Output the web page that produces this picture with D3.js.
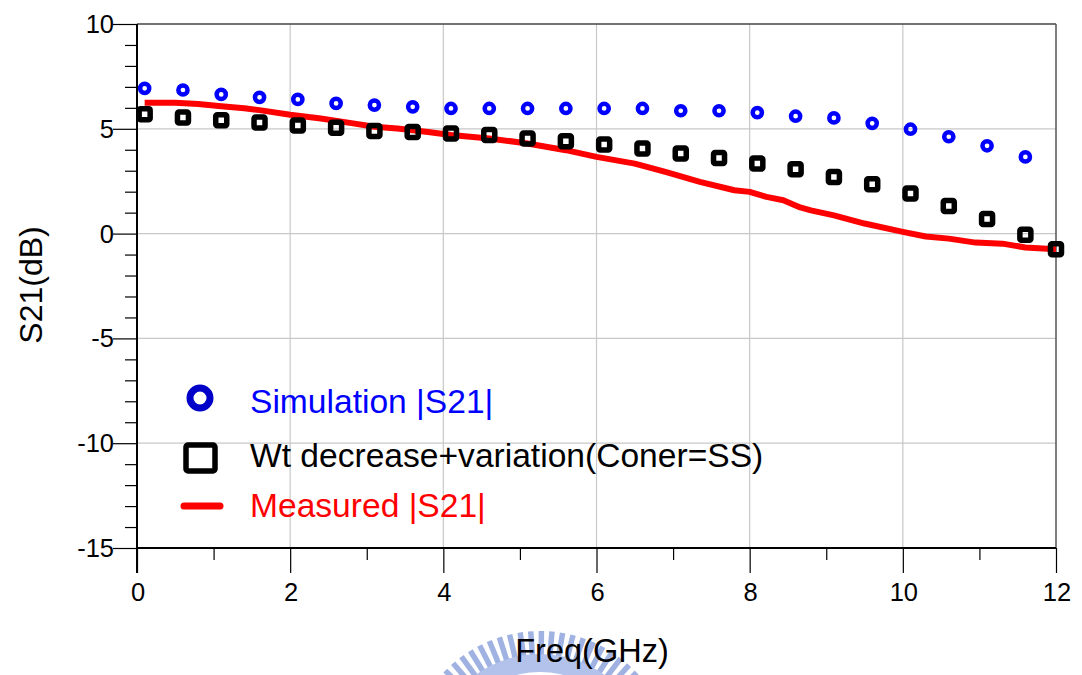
<!DOCTYPE html>
<html>
<head>
<meta charset="utf-8">
<script src="https://cdn.jsdelivr.net/npm/d3@7"></script>
<style>
  html, body { margin: 0; padding: 0; background: #fff; }
  svg { display: block; font-family: "Liberation Sans", Arial, sans-serif; }
</style>
</head>
<body>
<svg id="chart" width="1082" height="675"></svg>
<script>
// Sampled frequencies (GHz) for the simulated curves
const simFreq = [0.1, 0.6, 1.1, 1.6, 2.1, 2.6, 3.1, 3.6, 4.1, 4.6, 5.1, 5.6,
                 6.1, 6.6, 7.1, 7.6, 8.1, 8.6, 9.1, 9.6, 10.1, 10.6, 11.1, 11.6];
// Simulation |S21| (dB)
const simS21 = [6.93, 6.85, 6.64, 6.50, 6.40, 6.21, 6.13, 6.05, 5.97, 5.97, 5.97, 5.97,
                5.97, 5.97, 5.86, 5.86, 5.77, 5.60, 5.52, 5.26, 4.98, 4.62, 4.19, 3.66];
// Wt decrease + variation, corner SS
const wtFreq = [0.1, 0.6, 1.1, 1.6, 2.1, 2.6, 3.1, 3.6, 4.1, 4.6, 5.1, 5.6, 6.1,
                6.6, 7.1, 7.6, 8.1, 8.6, 9.1, 9.6, 10.1, 10.6, 11.1, 11.6, 12.0];
const wtS21 = [5.70, 5.54, 5.41, 5.30, 5.16, 5.05, 4.89, 4.85, 4.78, 4.70, 4.54, 4.41, 4.25,
               4.06, 3.82, 3.61, 3.34, 3.07, 2.70, 2.36, 1.91, 1.32, 0.70, -0.05, -0.75];
// Measured |S21|
const measFreq = [0.1, 0.5, 0.8, 1.1, 1.4, 1.6, 2.0, 2.4, 2.8, 3.1, 3.4, 3.8, 4.1, 4.6,
                  5.1, 5.6, 6.0, 6.5, 6.9, 7.35, 7.8, 8.0, 8.22, 8.44, 8.66, 8.8, 9.1,
                  9.5, 10.0, 10.3, 10.6, 10.95, 11.3, 11.6, 12.0];
const measS21 = [6.24, 6.24, 6.18, 6.08, 5.98, 5.89, 5.67, 5.49, 5.27, 5.10, 5.01, 4.85, 4.70, 4.54,
                 4.30, 3.98, 3.66, 3.34, 2.94, 2.47, 2.07, 1.99, 1.75, 1.59, 1.25, 1.11, 0.87,
                 0.48, 0.08, -0.14, -0.24, -0.43, -0.48, -0.66, -0.75];

const xTicks = [0, 2, 4, 6, 8, 10, 12];
const yTicks = [-15, -10, -5, 0, 5, 10];
const legendLabels = ["Simulation |S21|", "Wt decrease+variation(Coner=SS)", "Measured |S21|"];

const svg = d3.select("#chart");
const plotLeft = 137, plotRight = 1056, plotTop = 24, plotBottom = 548;

const x = d3.scaleLinear().domain([0, 12]).range([plotLeft, plotRight]);
const y = d3.scaleLinear().domain([-15, 10]).range([plotBottom, plotTop]);

// Faint emblem behind the x-axis title
const emblem = svg.append("g").attr("transform", "translate(540,764)");
for (let a = -50; a <= 50; a += 4.6) {
  const r = a * Math.PI / 180;
  emblem.append("line")
    .attr("x1", 108 * Math.sin(r)).attr("y1", -108 * Math.cos(r))
    .attr("x2", 133 * Math.sin(r)).attr("y2", -133 * Math.cos(r))
    .attr("stroke", "#9fb2e2").attr("stroke-width", 5.5);
}
emblem.append("path")
  .attr("d", d3.arc().innerRadius(92).outerRadius(110).startAngle(-0.9).endAngle(0.9)())
  .attr("fill", "#b3c2ea");

// Grid
const grid = svg.append("g").attr("stroke", "#c8c8c8").attr("stroke-width", 1.2);
xTicks.filter(v => v > 0 && v < 12).forEach(v => {
  grid.append("line").attr("x1", x(v)).attr("x2", x(v)).attr("y1", plotTop).attr("y2", plotBottom);
});
yTicks.filter(v => v > -15 && v < 10).forEach(v => {
  grid.append("line").attr("x1", plotLeft).attr("x2", plotRight).attr("y1", y(v)).attr("y2", y(v));
});

// Frame: top/right in gray
svg.append("line").attr("x1", plotLeft).attr("x2", plotRight).attr("y1", plotTop).attr("y2", plotTop)
  .attr("stroke", "#444").attr("stroke-width", 1.5);
svg.append("line").attr("x1", plotRight).attr("x2", plotRight).attr("y1", plotTop).attr("y2", plotBottom)
  .attr("stroke", "#555").attr("stroke-width", 1.5);

// X axis with minor ticks
const xAxis = svg.append("g").attr("transform", `translate(0,${plotBottom})`);
xAxis.call(d3.axisBottom(x).tickValues(d3.range(0, 13, 1)).tickSize(12).tickFormat(""))
  .call(g => g.select(".domain").remove());
xAxis.selectAll(".tick line").attr("stroke", "#000").attr("stroke-width", 1.2)
  .attr("y2", d => d % 2 === 0 ? 25 : 12);
xAxis.append("line").attr("x1", plotLeft).attr("x2", plotRight).attr("stroke", "#000").attr("stroke-width", 2);
xAxis.selectAll(".xl").data(xTicks).join("text")
  .attr("x", d => x(d) + 1).attr("y", 53)
  .attr("text-anchor", "middle").attr("font-size", 25.5).attr("fill", "#000")
  .text(d => d);

// Y axis with minor ticks
const yAxis = svg.append("g").attr("transform", `translate(${plotLeft},0)`);
yAxis.call(d3.axisLeft(y).tickValues(d3.range(-15, 11, 1)).tickSize(12).tickFormat(""))
  .call(g => g.select(".domain").remove());
yAxis.selectAll(".tick line").attr("stroke", "#000").attr("stroke-width", 1.2)
  .attr("x2", d => d % 5 === 0 ? -24 : -12);
yAxis.append("line").attr("y1", plotTop).attr("y2", plotBottom + 25).attr("stroke", "#000").attr("stroke-width", 2);
yAxis.selectAll(".yl").data(yTicks).join("text")
  .attr("x", -23).attr("y", d => y(d) + 9)
  .attr("text-anchor", "end").attr("font-size", 25.5).attr("fill", "#000")
  .text(d => d);

// Axis titles
svg.append("text").attr("x", 592).attr("y", 662).attr("text-anchor", "middle")
  .attr("font-size", 32.5).attr("fill", "#000").text("Freq(GHz)");
svg.append("text").attr("transform", "translate(42,285) rotate(-90)")
  .attr("text-anchor", "middle").attr("font-size", 32).attr("fill", "#000").text("S21(dB)");

// Measured line
const line = d3.line().x(d => x(d[0])).y(d => y(d[1]));
svg.append("path")
  .datum(d3.zip(measFreq, measS21))
  .attr("d", line)
  .attr("fill", "none").attr("stroke", "#ff0000").attr("stroke-width", 6)
  .attr("stroke-linejoin", "round");

// Wt decrease squares
svg.append("g").selectAll("rect").data(d3.zip(wtFreq, wtS21)).join("rect")
  .attr("x", d => x(d[0]) - 5.5).attr("y", d => y(d[1]) - 5.5)
  .attr("width", 11).attr("height", 11).attr("rx", 1.5)
  .attr("fill", "none").attr("stroke", "#000").attr("stroke-width", 5.5);

// Simulation circles
svg.append("g").selectAll("circle").data(d3.zip(simFreq, simS21)).join("circle")
  .attr("cx", d => x(d[0])).attr("cy", d => y(d[1])).attr("r", 4.6)
  .attr("fill", "none").attr("stroke", "#0000ff").attr("stroke-width", 4.5);

// Legend
const lg = svg.append("g");
lg.append("circle").attr("cx", 200).attr("cy", 398).attr("r", 10)
  .attr("fill", "none").attr("stroke", "#0000c8").attr("stroke-width", 7);
lg.append("rect").attr("x", 186).attr("y", 445).attr("width", 29).attr("height", 26).attr("rx", 2)
  .attr("fill", "none").attr("stroke", "#000").attr("stroke-width", 5.5);
lg.append("line").attr("x1", 184).attr("x2", 220).attr("y1", 506).attr("y2", 506)
  .attr("stroke", "#ff0000").attr("stroke-width", 7).attr("stroke-linecap", "round");
const legendColors = ["#0000ff", "#000000", "#ff0000"];
const legendY = [413, 467, 517];
lg.selectAll("text").data(legendLabels).join("text")
  .attr("x", 250).attr("y", (d, i) => legendY[i])
  .attr("font-size", 33.6).attr("fill", (d, i) => legendColors[i])
  .text(d => d);
</script>
</body>
</html>
